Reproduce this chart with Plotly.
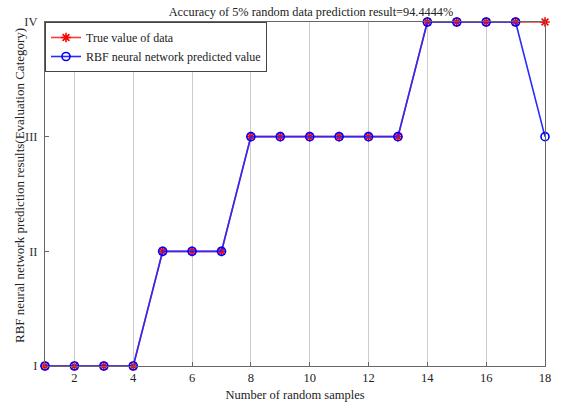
import plotly.graph_objects as go

samples = list(range(1, 19))
true_vals = [1, 1, 1, 1, 2, 2, 2, 3, 3, 3, 3, 3, 3, 4, 4, 4, 4, 4]
pred_vals = [1, 1, 1, 1, 2, 2, 2, 3, 3, 3, 3, 3, 3, 4, 4, 4, 4, 3]
y_tick_vals = [1, 2, 3, 4]
y_tick_text = ["I", "II", "III", "IV"]
x_tick_vals = list(range(2, 19, 2))

fig = go.Figure()
fig.add_trace(go.Scatter(
    x=samples, y=true_vals, mode="lines+markers", name="True value of data",
    line=dict(color="#ff3a3a", width=1.6),
    marker=dict(symbol="asterisk-open", size=8, color="#ff0000", line=dict(color="#ff0000", width=1.6)),
))
fig.add_trace(go.Scatter(
    x=samples, y=pred_vals, mode="lines+markers", name="RBF neural network predicted value",
    line=dict(color="#2a2aff", width=1.6),
    marker=dict(symbol="circle-open", size=8, color="#0000ff", line=dict(color="#0000ff", width=1.6)),
))

font_family = "Liberation Serif, Times New Roman, serif"
fig.update_layout(
    width=561, height=402,
    margin=dict(l=45, r=16, t=22, b=36, autoexpand=False),
    paper_bgcolor="white", plot_bgcolor="white",
    font=dict(family=font_family, size=12.5, color="#222222"),
    title=dict(text="Accuracy of 5% random data prediction result=94.4444%",
               x=311 / 561, xanchor="center", y=1 - 12 / 402, yanchor="middle",
               automargin=False,
               font=dict(size=12.3, family=font_family, color="#222222")),
    showlegend=True,
    legend=dict(x=0, y=1, xanchor="left", yanchor="top",
                bgcolor="white", bordercolor="#444444", borderwidth=1,
                font=dict(size=12, family=font_family, color="#222222"),
                tracegroupgap=0, itemwidth=30),
    xaxis=dict(range=[1, 18], tickvals=x_tick_vals, showgrid=True, gridcolor="#cccccc",
               gridwidth=1, zeroline=False, showline=True, linecolor="#666666",
               mirror=True, ticks="inside", ticklen=4, tickcolor="#666666",
               automargin=False, tickfont=dict(size=12.5),
               title=dict(text="Number of random samples", standoff=6,
                          font=dict(size=12.5, family=font_family))),
    yaxis=dict(range=[1, 4], tickvals=y_tick_vals, ticktext=y_tick_text, showgrid=False,
               zeroline=False, showline=True, linecolor="#666666", mirror=True,
               ticks="inside", ticklen=4, tickcolor="#666666", automargin=False,
               ticklabelstandoff=4,
               tickfont=dict(size=12.5, family=font_family, color="#333333")),
    annotations=[dict(
        text="RBF neural network prediction results(Evaluation Category)",
        xref="paper", yref="paper", x=-26 / 500, y=(366 - 186) / 344,
        xanchor="center", yanchor="middle", textangle=-90, showarrow=False,
        font=dict(size=13, family=font_family, color="#222222"))],
)
fig.update_traces(cliponaxis=False)
fig.write_html("out.html")
